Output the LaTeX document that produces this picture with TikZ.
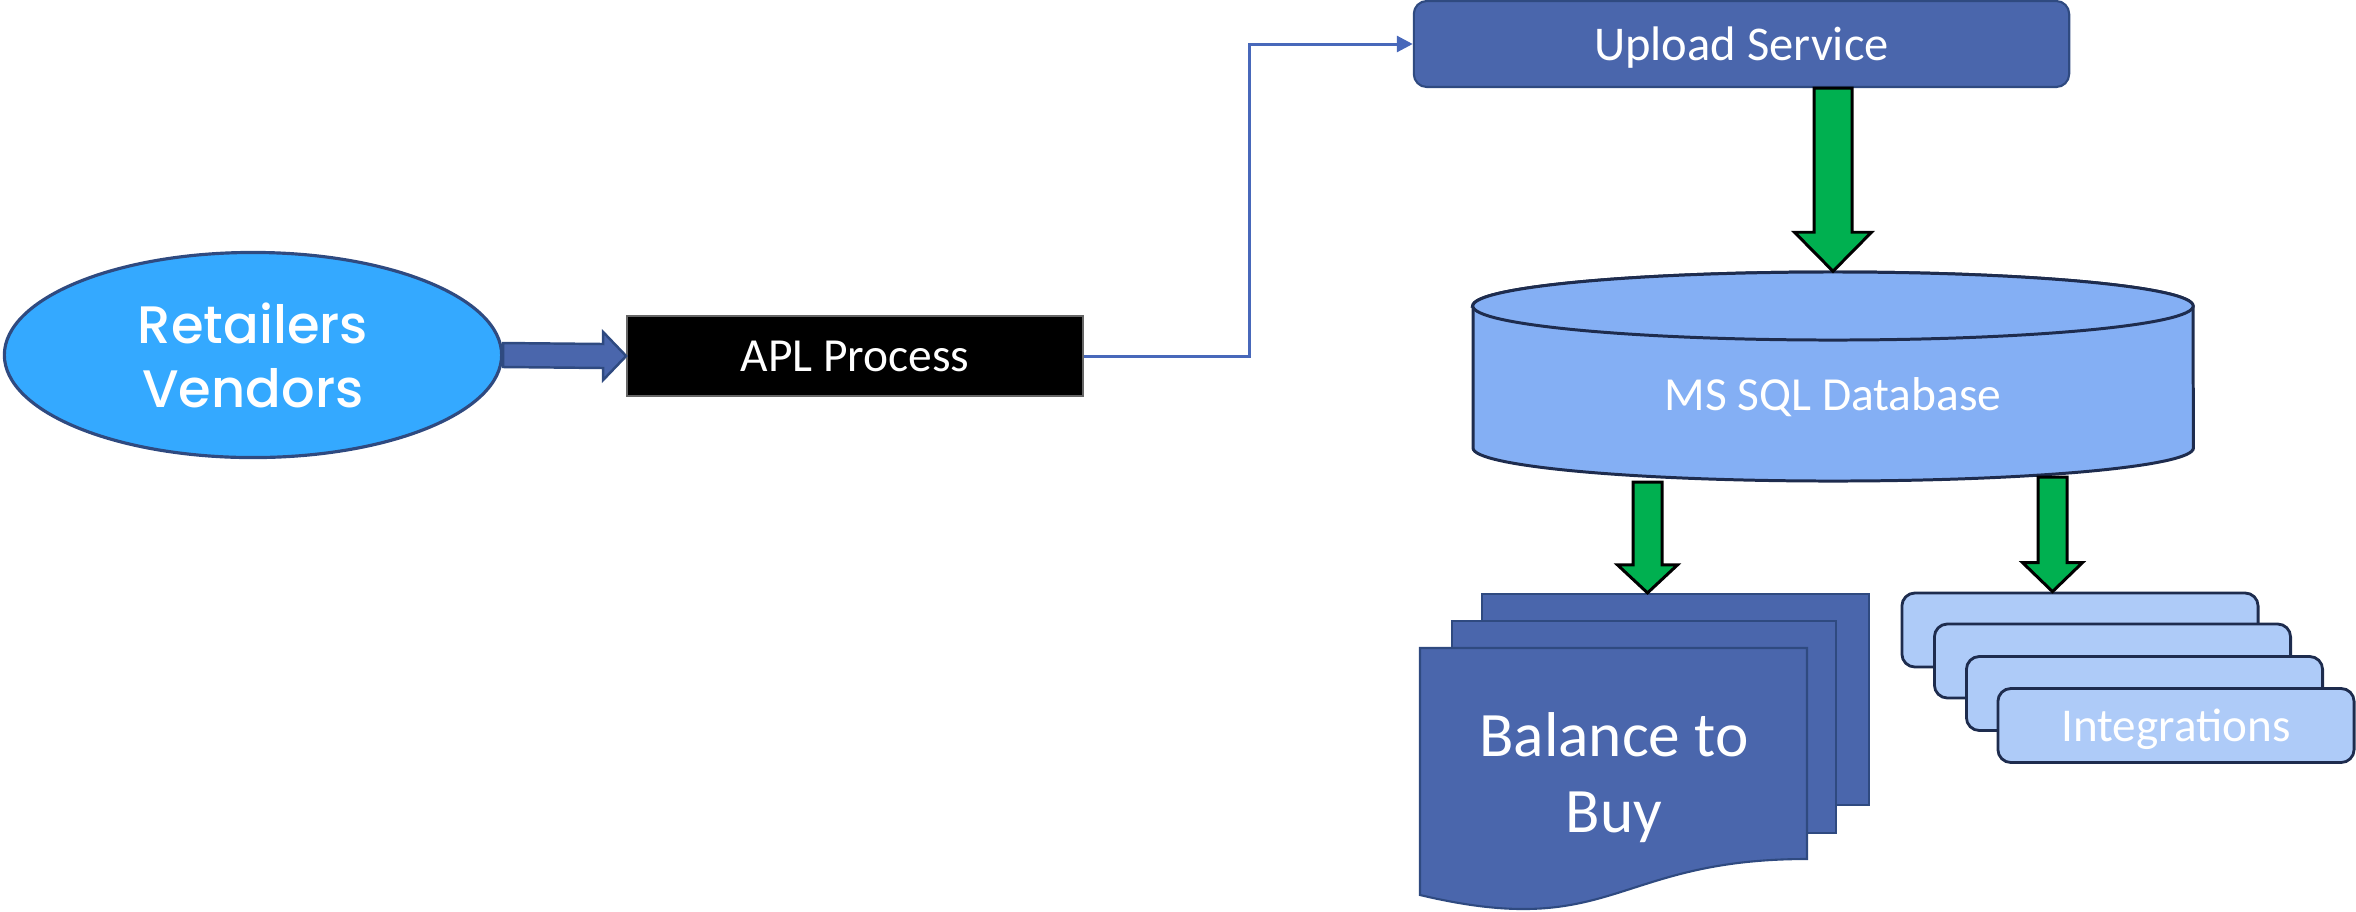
\documentclass[tikz,border=0pt]{standalone}
\usepackage{fontspec}
\setmainfont{Carlito}
\newfontfamily\popfont{Poppins}[UprightFont=* Medium]
\usetikzlibrary{shapes.geometric,arrows.meta,calc}

\definecolor{ellblue}{RGB}{52,169,255}
\definecolor{navyline}{RGB}{47,74,128}
\definecolor{shapeblue}{RGB}{74,102,172}
\definecolor{linkblue}{RGB}{72,104,186}
\definecolor{flowgreen}{RGB}{0,176,80}
\definecolor{dbblue}{RGB}{132,175,244}
\definecolor{intblue}{RGB}{174,203,248}
\definecolor{darkline}{RGB}{30,44,78}

% vertical block arrow: start, tip, shaft half width, head half width, head length
\newcommand\vblockarrow[5]{%
  \draw[greenblock] ($(#1)+(-#3,0)$) -- ($(#2)+(-#3,-#5)$) -- ($(#2)+(-#4,-#5)$)
    -- (#2) -- ($(#2)+(#4,-#5)$) -- ($(#2)+(#3,-#5)$) -- ($(#1)+(#3,0)$) -- cycle;}
% horizontal block arrow: start, tip, shaft half height, head half height, head length
\newcommand\hblockarrow[5]{%
  \draw[blueblock] ($(#1)+(0,-#3)$) -- ($(#2)+(-#5,-#3)$) -- ($(#2)+(-#5,-#4)$)
    -- (#2) -- ($(#2)+(-#5,#4)$) -- ($(#2)+(-#5,#3)$) -- ($(#1)+(0,#3)$) -- cycle;}

\tikzset{
  greenblock/.style={fill=flowgreen, draw=black, line width=0.85pt, line join=miter},
  blueblock/.style={fill=shapeblue, draw=navyline, line width=0.7pt, line join=miter},
  conn/.style={draw=linkblue, line width=0.85pt, -{Triangle[length=4.5pt,width=4.5pt]}},
  whitetext/.style={text=white, align=center, inner sep=0pt},
  docpage/.style={rectangle, fill=shapeblue, draw=navyline, line width=0.6pt,
    minimum width=3.86cm, minimum height=2.11cm, inner sep=0pt},
  intbox/.style={rectangle, rounded corners=0.13cm, fill=intblue, draw=darkline,
    line width=0.8pt, minimum width=3.56cm, minimum height=0.74cm, inner sep=0pt,
    text=white, text depth=0pt, font=\fontsize{13.4}{16}\selectfont},
}

\begin{document}
\begin{tikzpicture}[x=0.01cm, y=-0.01cm]
\useasboundingbox (0,0) rectangle (2356,911);

% source ellipse
\node[ellipse, fill=ellblue, draw=navyline, line width=0.9pt,
      minimum width=4.97cm, minimum height=2.05cm, whitetext,
      font=\popfont\fontsize{15}{18.2}\selectfont] (rv) at (253,355) {Retailers\\Vendors};

% APL process box
\node[rectangle, fill=black, draw=black!60, line width=0.4pt,
      minimum width=4.56cm, minimum height=0.80cm, whitetext,
      font=\fontsize{13.5}{16}\selectfont] (apl) at (855,356) {APL Process};

% upload service
\node[rectangle, rounded corners=0.13cm, fill=shapeblue, draw=navyline, line width=0.6pt,
      minimum width=6.55cm, minimum height=0.86cm, whitetext, text depth=0pt,
      font=\fontsize{13.8}{16}\selectfont] (up) at (1741.5,44) {Upload Service};

% database cylinder
\path[fill=dbblue, draw=darkline, line width=0.85pt]
  (1473,306) -- (1473,448)
  arc[start angle=180, end angle=360, x radius=3.6cm, y radius=0.33cm]
  -- (2193,306)
  arc[start angle=0, end angle=180, x radius=3.6cm, y radius=0.34cm] -- cycle;
\draw[fill=dbblue, draw=darkline, line width=0.85pt]
  (1833,306) ellipse[x radius=3.6cm, y radius=0.34cm];
\node[minimum width=7.2cm, minimum height=2.09cm, inner sep=0pt] (db) at (1833,376.5) {};
\node[whitetext, font=\fontsize{13.5}{16}\selectfont] (dblabel) at (1833,397) {MS SQL Database};

% document stack
\node[docpage] (bb) at (1675.5,699.5) {};
\node[docpage, minimum width=3.84cm, minimum height=2.12cm] (mb) at (1644,727) {};
\path[fill=shapeblue, draw=navyline, line width=0.6pt]
  (1420,648) -- (1807,648) -- (1807,859)
  .. controls (1613.5,859) and (1613.5,941) .. (1420,895) -- cycle;
\node[whitetext, font=\fontsize{18}{21.6}\selectfont] (bal) at (1614,778) {Balance to\\Buy};

% integrations stack
\node[intbox] (i1) at (2080,630) {};
\node[intbox] (i2) at (2112.5,661) {};
\node[intbox] (i3) at (2144.5,693.5) {};
\node[intbox] (i4) at (2176,725.5) {Integrations};

% connectors
\hblockarrow{rv.east}{apl.west}{12}{24}{23}
\coordinate (bend) at (1249,0);
\draw[conn] (apl.east) -- (apl.east -| bend) |- (up.west);

\coordinate (a1) at (db.north |- up.south);
\vblockarrow{a1}{db.north}{19}{38.5}{39}
\coordinate (a2) at (1647.5,482);
\vblockarrow{a2}{a2 |- bb.north}{14.5}{30}{28}
\coordinate (a3) at (2052.5,477);
\vblockarrow{a3}{a3 |- i1.north}{14.5}{30}{29}
\end{tikzpicture}
\end{document}
